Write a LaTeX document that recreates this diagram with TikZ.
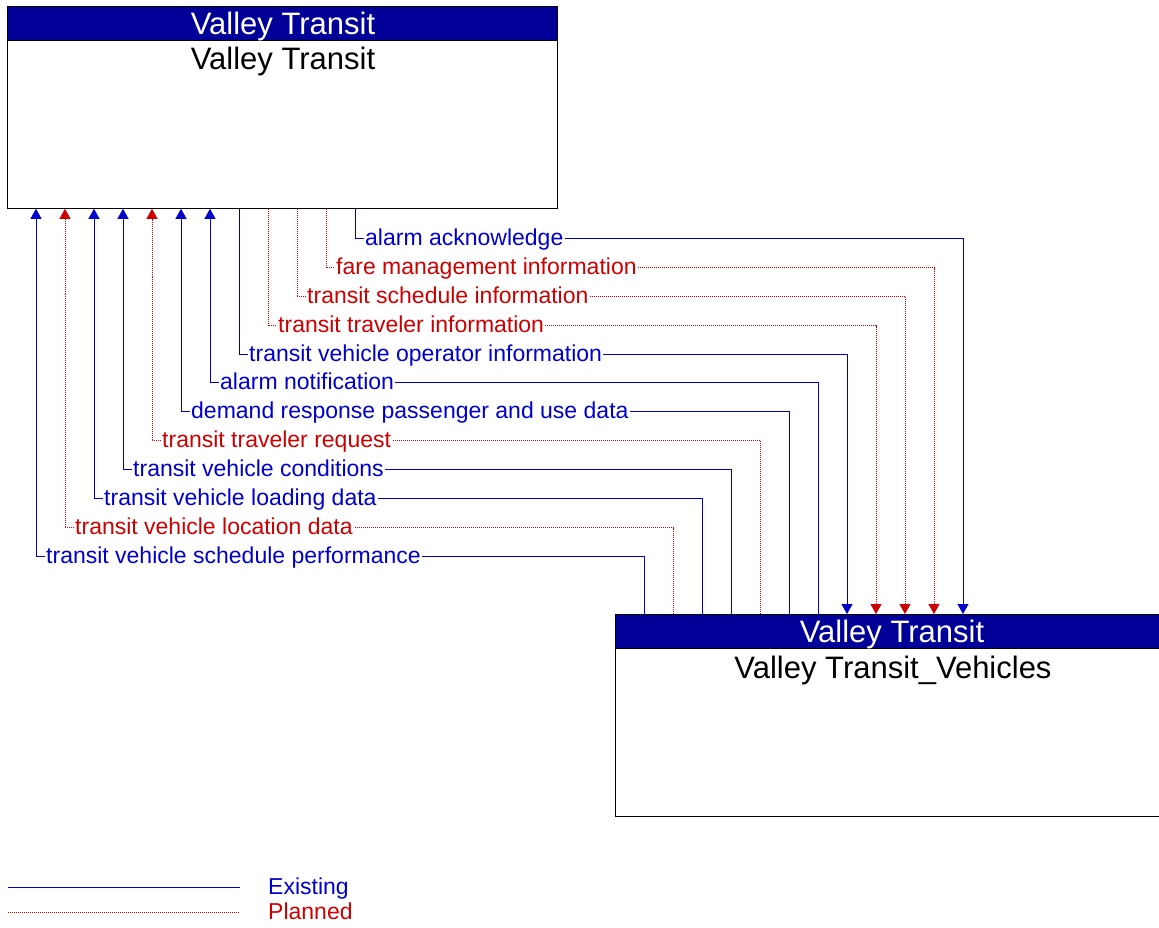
\documentclass[tikz,border=0pt]{standalone}
\usepackage{fontspec}
\setmainfont{Liberation Sans}
\usetikzlibrary{arrows.meta}
\definecolor{myblue}{HTML}{0000CC}
\definecolor{myred}{HTML}{CC0000}
\definecolor{myhdr}{HTML}{000099}
\begin{document}
\begin{tikzpicture}[x=1pt,y=-1pt,
  box/.style={draw=black, line width=0.8pt, fill=white, inner sep=0pt, anchor=north west, minimum height=202pt},
  hdr/.style={draw=black, line width=0.8pt, fill=myhdr, inner sep=0pt, anchor=north west, minimum height=34pt},
  hdrtxt/.style={text=white, inner sep=0pt, anchor=base, font=\fontsize{31}{33}\selectfont},
  ttl/.style={text=black, inner sep=0pt, anchor=base, font=\fontsize{31}{33}\selectfont},
  lbl/.style={fill=white, inner xsep=1pt, inner ysep=0pt, text height=18pt, text depth=4pt, anchor=west, font=\fontsize{23}{25}\selectfont},
  ex/.style={draw=myblue, line width=0.8pt},
  pl/.style={draw=myred, line width=0.8pt, dash pattern=on 1pt off 1pt},
  tip/.style={-{Triangle[length=10pt,width=11pt]}},
  lgd/.style={anchor=west, inner sep=0pt, text height=18pt, text depth=4pt, font=\fontsize{23}{25}\selectfont}]
\useasboundingbox (0,0) rectangle (1159,928);
% top box
\node[box, minimum width=550pt] (top) at (7,6) {};
\node[hdr, minimum width=550pt] (tophdr) at (7,6) {};
\node[hdrtxt] (tophdrtxt) at (283,34.5) {Valley Transit};
\node[ttl] (topname) at (283,69.5) {Valley Transit};
% bottom box
\node[box, minimum width=555pt] (bot) at (615,614) {};
\node[hdr, minimum width=555pt] (bothdr) at (615,614) {};
\node[hdrtxt] (bothdrtxt) at (892,642.5) {Valley Transit};
\node[ttl] (botname) at (893,678.5) {Valley Transit\_Vehicles};
% connectors
\foreach \xt/\yy/\xb/\st/\col/\up/\txt [count=\i] in {
 355/238/963/ex/myblue/0/alarm acknowledge,
 326/267/934/pl/myred/0/fare management information,
 297/296/905/pl/myred/0/transit schedule information,
 268/325/876/pl/myred/0/transit traveler information,
 239/354/847/ex/myblue/0/transit vehicle operator information,
 210/382/818/ex/myblue/1/alarm notification,
 181/411/789/ex/myblue/1/demand response passenger and use data,
 152/440/760/pl/myred/1/transit traveler request,
 123/469/731/ex/myblue/1/transit vehicle conditions,
 94/498/702/ex/myblue/1/transit vehicle loading data,
 65/527/673/pl/myred/1/transit vehicle location data,
 36/556/644/ex/myblue/1/transit vehicle schedule performance}
{
  \coordinate (t\i) at ([xshift={(\xt-7)*1pt}]top.south west);
  \coordinate (b\i) at ([xshift={(\xb-615)*1pt}]bot.north west);
  \node[lbl, text=\col] (l\i) at (\xt+9,\yy+0.5) {\txt};
  \ifnum\up=1
    \draw[\st, tip] (l\i.west) -| (t\i);
    \draw[\st] (b\i) |- (l\i.east);
  \else
    \draw[\st] (t\i) |- (l\i.west);
    \draw[\st, tip] (l\i.east) -| (b\i);
  \fi
}
% legend
\coordinate (exa) at (8,887);
\coordinate (exb) at (240,887);
\coordinate (pla) at (8,912);
\coordinate (plb) at (240,912);
\draw[ex] (exa) -- (exb);
\draw[pl] (pla) -- (plb);
\node[lgd, text=myblue] (lgex) at (268,887.5) {Existing};
\node[lgd, text=myred] (lgpl) at (268,912.5) {Planned};
\end{tikzpicture}
\end{document}
